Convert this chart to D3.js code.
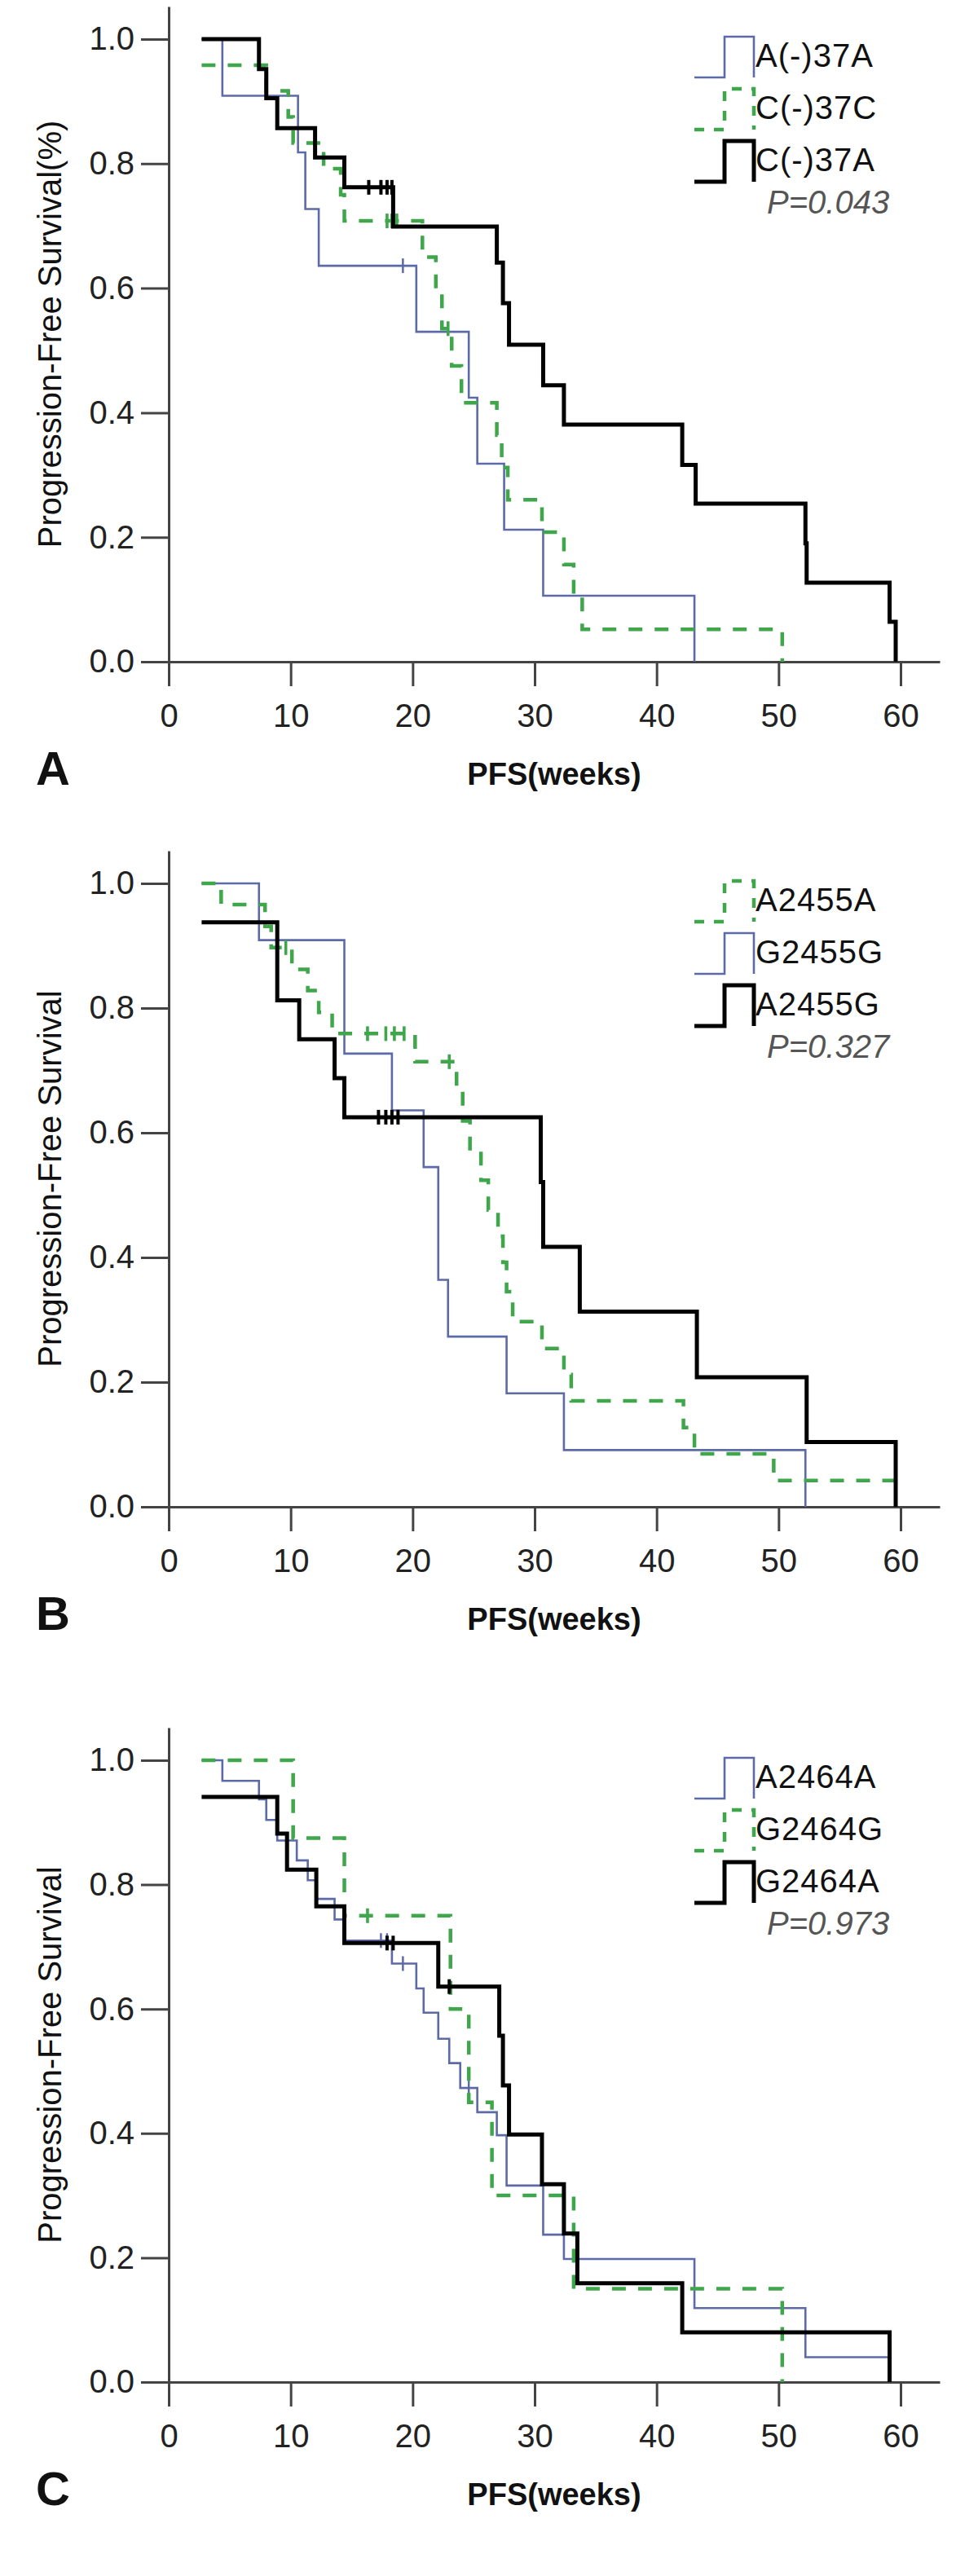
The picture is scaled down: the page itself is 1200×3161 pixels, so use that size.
<!DOCTYPE html>
<html><head><meta charset="utf-8">
<script src="https://cdn.jsdelivr.net/npm/d3@7"></script>
<style>body{margin:0;background:#fff}svg{display:block}</style>
</head><body>
<script>
// ---------- tick labels ----------
const weekTicks = [0, 10, 20, 30, 40, 50, 60];
const survTicks = [0, 0.2, 0.4, 0.6, 0.8, 1.0];

// ---------- Panel A : C(-)37A polymorphism ----------
const A_A37A_t = [2.7, 4.4, 10.6, 11.2, 12.3, 20.3, 24.6, 25.3, 27.5, 30.7, 43.1];
const A_A37A_s = [1.0, 0.909, 0.818, 0.727, 0.636, 0.530, 0.424, 0.318, 0.212, 0.106, 0];
const A_A37A_c = [19.2];

const A_C37C_t = [2.7, 8.0, 9.8, 10.2, 12.7, 14.1, 14.4, 20.8, 21.9, 22.4, 23.2, 24.0, 26.9, 27.3, 27.8, 30.6, 32.4, 33.2, 33.9, 50.3];
const A_C37C_s = [0.958, 0.917, 0.875, 0.833, 0.792, 0.750, 0.708, 0.650, 0.595, 0.535, 0.475, 0.416, 0.364, 0.312, 0.260, 0.208, 0.156, 0.104, 0.052, 0];
const A_C37C_c = [17.9, 18.3, 18.7, 22.9];

const A_C37A_t = [2.7, 7.4, 8.0, 8.9, 12.0, 14.4, 18.4, 26.9, 27.4, 27.9, 30.7, 32.4, 42.1, 43.2, 52.2, 52.3, 59.1, 59.6];
const A_C37A_s = [1.0, 0.952, 0.905, 0.857, 0.810, 0.762, 0.699, 0.641, 0.576, 0.509, 0.444, 0.381, 0.316, 0.254, 0.190, 0.127, 0.064, 0];
const A_C37A_c = [16.4, 17.4, 17.9, 18.3];

// ---------- Panel B : A2455G ----------
const B_A2455A_t = [2.7, 4.3, 7.9, 8.4, 10.1, 11.4, 12.3, 13.4, 20.2, 23.6, 24.1, 24.7, 25.6, 26.2, 27.0, 27.4, 27.7, 28.2, 30.6, 32.4, 33.0, 42.2, 43.1, 49.6, 59.5];
const B_A2455A_s = [1.0, 0.966, 0.931, 0.897, 0.862, 0.828, 0.793, 0.759, 0.714, 0.666, 0.619, 0.571, 0.524, 0.476, 0.434, 0.392, 0.345, 0.297, 0.254, 0.212, 0.170, 0.127, 0.085, 0.042, 0.042];
const B_A2455A_c = [9.6, 16.3, 17.8, 18.5, 19.3, 23.0];

const B_G2455G_t = [2.7, 7.4, 14.4, 18.3, 20.9, 22.1, 22.9, 27.7, 32.4, 52.2];
const B_G2455G_s = [1.0, 0.909, 0.727, 0.636, 0.545, 0.364, 0.273, 0.182, 0.091, 0];
const B_G2455G_c = [];

const B_A2455G_t = [2.7, 8.9, 10.7, 13.6, 14.4, 30.5, 30.7, 33.7, 43.3, 52.3, 59.6];
const B_A2455G_s = [0.9375, 0.8125, 0.75, 0.6875, 0.625, 0.521, 0.417, 0.313, 0.208, 0.104, 0];
const B_A2455G_c = [17.2, 17.8, 18.3, 18.8];

// ---------- Panel C : A2464G ----------
const C_A2464A_t = [2.7, 4.4, 7.4, 8.0, 8.9, 10.5, 11.4, 12.1, 13.6, 14.4, 18.3, 20.3, 20.9, 22.1, 23.0, 23.9, 25.3, 26.9, 27.7, 30.7, 32.4, 43.1, 52.2, 59.1];
const C_A2464A_s = [1.0, 0.967, 0.937, 0.904, 0.871, 0.839, 0.807, 0.777, 0.744, 0.710, 0.673, 0.633, 0.594, 0.552, 0.513, 0.473, 0.434, 0.397, 0.316, 0.237, 0.198, 0.119, 0.040, 0];
const C_A2464A_c = [17.4, 17.9, 19.2, 24.6];

const C_G2464G_t = [2.7, 10.2, 14.4, 23.1, 24.6, 26.5, 33.2, 50.3];
const C_G2464G_s = [1.0, 0.875, 0.75, 0.6, 0.45, 0.3, 0.15, 0];
const C_G2464G_c = [16.3];

const C_G2464A_t = [2.7, 8.9, 9.7, 12.1, 14.4, 22.1, 27.1, 27.4, 27.9, 30.6, 32.4, 33.5, 42.1, 59.1];
const C_G2464A_s = [0.941, 0.882, 0.824, 0.765, 0.706, 0.636, 0.557, 0.477, 0.398, 0.318, 0.239, 0.159, 0.080, 0];
const C_G2464A_c = [17.9, 18.4, 23.0];

// ---------- texts ----------
const panelLetters = ["A", "B", "C"];
const yTitles = ["Progression-Free Survival(%)", "Progression-Free Survival", "Progression-Free Survival"];
const xTitle = "PFS(weeks)";
const pValues = ["P=0.043", "P=0.327", "P=0.973"];

// ---------- styles ----------
const styles = {
  blue:  {stroke: "#5d6aa8", width: 2.6, dash: null},
  green: {stroke: "#3fa64b", width: 4.5, dash: "17,15"},
  black: {stroke: "#000000", width: 5,   dash: null}
};

const panels = [
  {letter: panelLetters[0], yTitle: yTitles[0], p: pValues[0], yOne: 48, yZero: 812,
   legend: [
     {name: "A(-)37A", style: "blue",  t: A_A37A_t, s: A_A37A_s, c: A_A37A_c},
     {name: "C(-)37C", style: "green", t: A_C37C_t, s: A_C37C_s, c: A_C37C_c},
     {name: "C(-)37A", style: "black", t: A_C37A_t, s: A_C37A_s, c: A_C37A_c}]},
  {letter: panelLetters[1], yTitle: yTitles[1], p: pValues[1], yOne: 1084, yZero: 1849,
   legend: [
     {name: "A2455A", style: "green", t: B_A2455A_t, s: B_A2455A_s, c: B_A2455A_c},
     {name: "G2455G", style: "blue",  t: B_G2455G_t, s: B_G2455G_s, c: B_G2455G_c},
     {name: "A2455G", style: "black", t: B_A2455G_t, s: B_A2455G_s, c: B_A2455G_c}]},
  {letter: panelLetters[2], yTitle: yTitles[2], p: pValues[2], yOne: 2160, yZero: 2923,
   legend: [
     {name: "A2464A", style: "blue",  t: C_A2464A_t, s: C_A2464A_s, c: C_A2464A_c},
     {name: "G2464G", style: "green", t: C_G2464G_t, s: C_G2464G_s, c: C_G2464G_c},
     {name: "G2464A", style: "black", t: C_G2464A_t, s: C_G2464A_s, c: C_G2464A_c}]}
];

const W = 1200, H = 3161;
const FONT = "'Liberation Sans', Arial, Helvetica, sans-serif";
const svg = d3.select("body").append("svg").attr("width", W).attr("height", H)
  .style("font-family", FONT);
svg.append("rect").attr("width", W).attr("height", H).attr("fill", "#fff");

const xLeft = 207, xRight = 1153, weekAt60 = 1105;
const x = d3.scaleLinear().domain([0, 60 * (xRight - xLeft) / (weekAt60 - xLeft)]).range([xLeft, xRight]);

panels.forEach(P => {
  const axisTop = P.yOne - 40;
  const ext = 1 + 40 / (P.yZero - P.yOne);
  const y = d3.scaleLinear().domain([0, ext]).range([P.yZero, axisTop]);
  const g = svg.append("g");

  // axes
  const yAxis = d3.axisLeft(y).tickValues(survTicks).tickFormat(d3.format(".1f"))
    .tickSizeInner(34).tickSizeOuter(0).tickPadding(8);
  const gy = g.append("g").attr("transform", `translate(${xLeft},0)`).call(yAxis);
  const xAxis = d3.axisBottom(x).tickValues(weekTicks).tickFormat(d3.format("d"))
    .tickSizeInner(30).tickSizeOuter(0).tickPadding(22);
  const gx = g.append("g").attr("transform", `translate(0,${P.yZero})`).call(xAxis);
  [gx, gy].forEach(a => {
    a.select(".domain").attr("stroke", "#444").attr("stroke-width", 3);
    a.selectAll(".tick line").attr("stroke", "#444").attr("stroke-width", 3);
    a.selectAll(".tick text").attr("fill", "#222").style("font-size", "40px").style("font-family", FONT);
  });

  // curves
  const drawOrder = ["blue", "green", "black"];
  drawOrder.forEach(st => {
    P.legend.filter(L => L.style === st).forEach(L => {
      const S = styles[L.style];
      const pts = L.t.map((t, i) => [t, L.s[i]]);
      const stepPts = [];
      pts.forEach((p, i) => {
        if (i === 0) stepPts.push(p);
        else { stepPts.push([p[0], pts[i - 1][1]]); stepPts.push(p); }
      });
      const line = d3.line().x(d => x(d[0])).y(d => y(d[1]));
      g.append("path").attr("d", line(stepPts)).attr("fill", "none")
        .attr("stroke", S.stroke).attr("stroke-width", S.width)
        .attr("stroke-dasharray", S.dash).attr("stroke-linejoin", "miter").attr("stroke-linecap", "butt");
      L.c.forEach(ct => {
        let lv = L.s[0];
        L.t.forEach((t, i) => { if (t <= ct) lv = L.s[i]; });
        g.append("line").attr("x1", x(ct)).attr("x2", x(ct))
          .attr("y1", y(lv) - 9).attr("y2", y(lv) + 9)
          .attr("stroke", S.stroke).attr("stroke-width", Math.max(2.5, S.width * 0.8));
      });
    });
  });

  // legend
  const lx0 = 852, lxm = 889, lxr = 925, textX = 927;
  P.legend.forEach((L, i) => {
    const S = styles[L.style];
    const top = P.yOne - 3 + i * 64, bot = top + 50;
    g.append("path").attr("d", `M${lx0},${bot}H${lxm}V${top}H${lxr}V${bot}`)
      .attr("fill", "none").attr("stroke", S.stroke).attr("stroke-width", S.width)
      .attr("stroke-dasharray", S.dash ? "12,12" : null);
    g.append("text").attr("x", textX).attr("y", top + 37).text(L.name)
      .attr("fill", "#111").style("font-size", "40px").style("letter-spacing", "1px");
  });
  g.append("text").attr("x", 941).attr("y", P.yOne + 214).text(P.p)
    .attr("fill", "#555").style("font-size", "40px").style("font-style", "italic");

  // titles
  g.append("text").attr("transform", `translate(75,${(axisTop + P.yZero) / 2}) rotate(-90)`)
    .attr("text-anchor", "middle").text(P.yTitle).attr("fill", "#111").style("font-size", "40px");
  g.append("text").attr("x", (xLeft + xRight) / 2).attr("y", P.yZero + 151).attr("text-anchor", "middle")
    .text(xTitle).attr("fill", "#111").style("font-size", "38px").style("font-weight", "bold");
  g.append("text").attr("x", 44).attr("y", P.yZero + 151).text(P.letter)
    .attr("fill", "#111").style("font-size", "58px").style("font-weight", "bold");
});
</script>
</body></html>
